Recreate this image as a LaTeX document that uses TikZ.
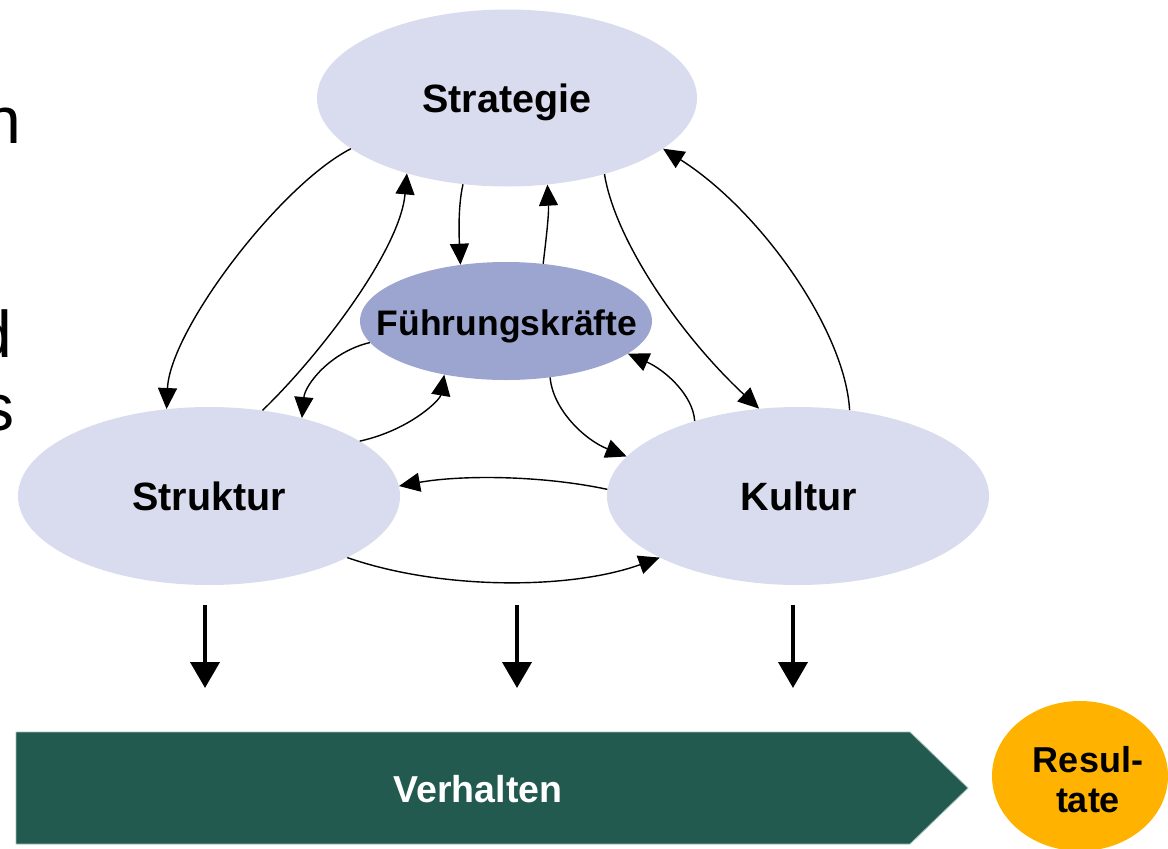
\documentclass[tikz,border=0pt]{standalone}
\usepackage{fontspec}
\setmainfont{Liberation Sans}
\usetikzlibrary{shapes.geometric,arrows.meta}
\definecolor{pale}{HTML}{D9DCEE}
\definecolor{leadblue}{HTML}{9BA5D0}
\definecolor{deepgreen}{HTML}{225A50}
\definecolor{greenrim}{HTML}{9FBCB4}
\definecolor{amber}{HTML}{FFB300}

\begin{document}
\begin{tikzpicture}[x=1pt,y=-1pt,
  oval/.style={ellipse,fill=pale,draw=none,inner sep=0pt,minimum width=382pt,minimum height=178pt},
  lbl/.style={anchor=base,inner sep=0pt,font=\bfseries\fontsize{39.5}{44}\selectfont},
  frag/.style={anchor=base east,inner sep=0pt,font=\fontsize{66}{70}\selectfont},
  link/.style={line width=1.4pt,-{Triangle[length=21pt,width=19pt]}},
  push/.style={line width=4pt,-{Triangle[length=26pt,width=29pt]}},
]
\useasboundingbox (0,0) rectangle (1168,849);
\clip (0,0) rectangle (1168,849);

% ends of the text running in from the left
\node[frag] (fa) at (21,143) {n};
\node[frag] (fb) at (12,357) {d};
\node[frag] (fc) at (15,430) {s};

% the four fields
\node[oval,minimum width=380pt,minimum height=177pt] (strat) at (507,98) {};
\node[oval] (struk) at (209,496) {};
\node[oval] (kult) at (798,496) {};
\node[ellipse,fill=leadblue,inner sep=0pt,minimum width=292pt,minimum height=118pt] (lead) at (506,321) {};

\node[lbl] (tstrat) at (507,112) {Strategie};
\node[lbl] (tstruk) at (209,510) {Struktur};
\node[lbl] (tkult) at (799,510) {Kultur};
\node[lbl,font=\bfseries\fontsize{35.5}{40}\selectfont] (tlead) at (507,335) {Führungskräfte};

% mutual influences
\draw[link] (strat.198) .. controls (280,185) and (170,330) .. (struk.116);
\draw[link] (struk.58) .. controls (320,355) and (400,250) .. (strat.217);
\draw[link] (strat.243) .. controls (458,205) and (459,235) .. (lead.129);
\draw[link] (lead.57) .. controls (546,240) and (549,215) .. (strat.295);
\draw[link] (strat.322) .. controls (615,240) and (680,335) .. (kult.114);
\draw[link] (kult.59) .. controls (845,330) and (760,210) .. (strat.342);
\draw[link] (lead.189) .. controls (330,352) and (305,385) .. (struk.40);
\draw[link] (struk.20) .. controls (410,430) and (440,400) .. (lead.221);
\draw[link] (lead.308) .. controls (553,410) and (585,440) .. (kult.167);
\draw[link] (kult.144) .. controls (693,395) and (665,370) .. (lead.345);
\draw[link] (kult.178) .. controls (540,475) and (460,475) .. (struk.3);
\draw[link] (struk.336) .. controls (440,590) and (570,590) .. (kult.204);

% effect on behaviour
\coordinate (d1a) at (205,605); \coordinate (d1b) at (205,688);
\coordinate (d2a) at (517,605); \coordinate (d2b) at (517,688);
\coordinate (d3a) at (793,605); \coordinate (d3b) at (793,688);
\draw[push] (d1a) -- (d1b);
\draw[push] (d2a) -- (d2b);
\draw[push] (d3a) -- (d3b);

% behaviour arrow and result
\fill[deepgreen] (16,732) -- (910,732) -- (968,788) -- (910,844) -- (16,844) -- cycle;
\draw[greenrim,line width=0.8pt] (16,732) -- (910,732) -- (968,788) -- (910,844) -- (16,844) -- cycle;
\node[lbl,text=white,font=\bfseries\fontsize{37.5}{42}\selectfont] (tverh) at (478,802) {Verhalten};

\node[ellipse,fill=amber,inner sep=0pt,minimum width=176pt,minimum height=150pt] (res) at (1080,776) {};
\node[lbl,font=\bfseries\fontsize{36}{40}\selectfont] (tres1) at (1088,772) {Resul-};
\node[lbl,font=\bfseries\fontsize{36}{40}\selectfont] (tres2) at (1088,812) {tate};
\end{tikzpicture}
\end{document}
